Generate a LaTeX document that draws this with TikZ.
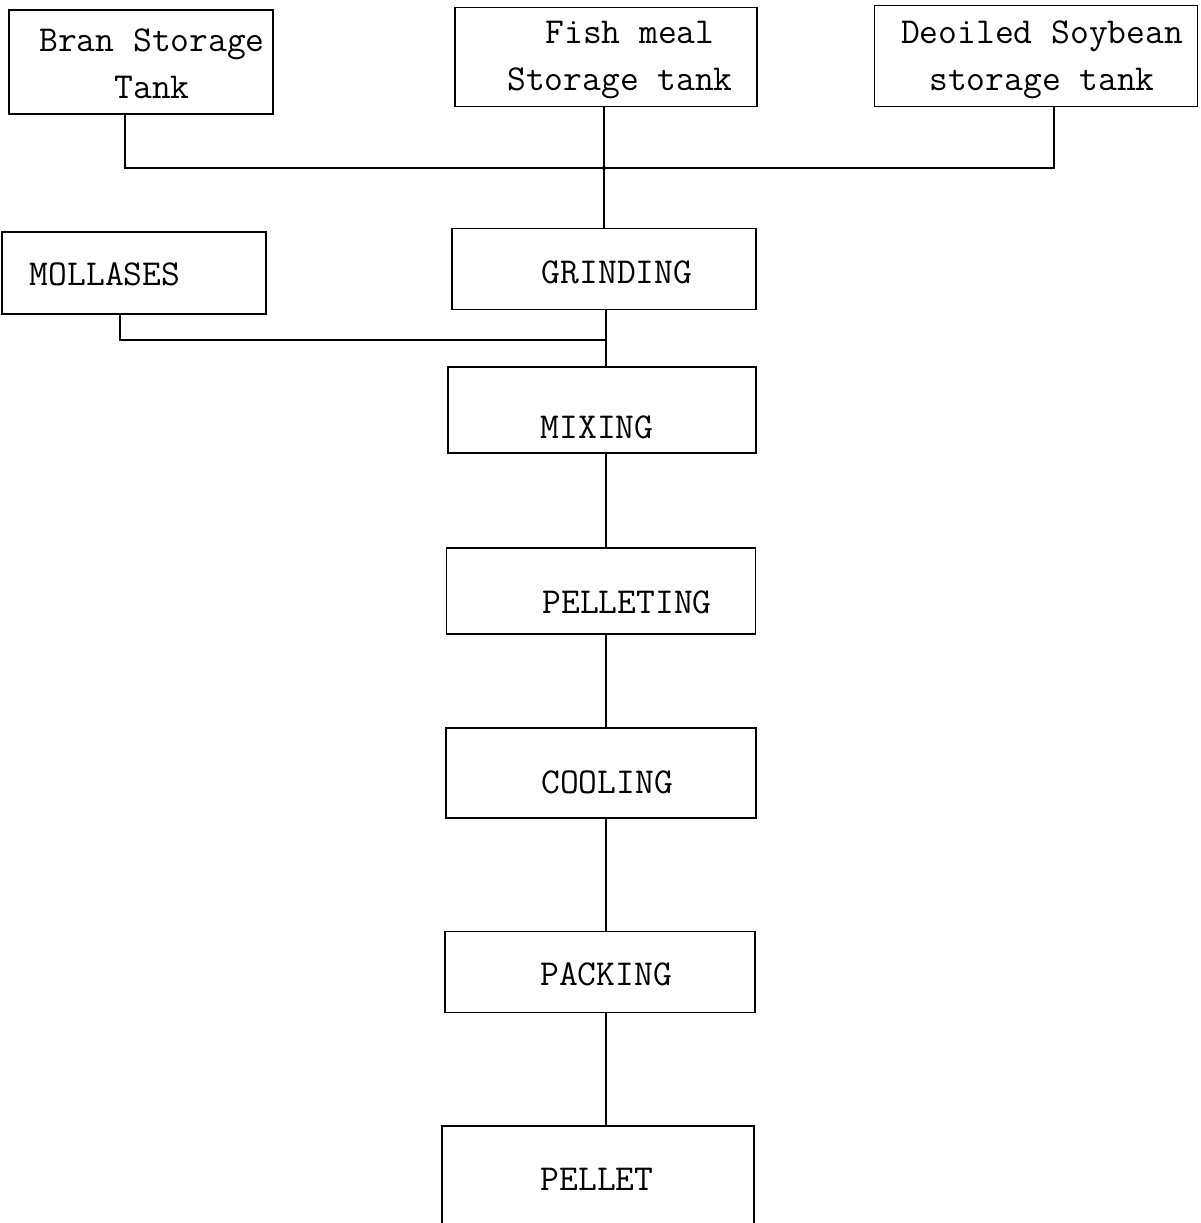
\documentclass[tikz,border=0pt]{standalone}
\usepackage{fontspec}
\begin{document}
\begin{tikzpicture}[x=1pt,y=-1pt,
  box/.style={draw,rectangle,line width=1.6pt,inner sep=0pt},
  lbl/.style={font=\ttfamily\fontsize{36.5}{47}\selectfont,align=center,inner sep=0pt},
  conn/.style={line width=1.5pt}]
\useasboundingbox[fill=white] (0,0) rectangle (1200,1223);
% boxes
\node[box,minimum width=264,minimum height=104] (bran) at (141,62) {};
\node[box,minimum width=302,minimum height=99] (fish) at (606,57) {};
\node[box,minimum width=323,minimum height=101] (soy) at (1036,56) {};
\node[box,minimum width=264,minimum height=82] (mol) at (134,273) {};
\node[box,minimum width=304,minimum height=81] (grind) at (604,269) {};
\node[box,minimum width=308,minimum height=86] (mix) at (602,410) {};
\node[box,minimum width=309,minimum height=86] (pel) at (601,591) {};
\node[box,minimum width=310,minimum height=90] (cool) at (601,773) {};
\node[box,minimum width=310,minimum height=81] (pack) at (600,972) {};
\node[box,minimum width=312,minimum height=120] (pellet) at (598,1186) {};
% labels
\node[lbl] (tbran) at (152,64) {Bran Storage\\Tank};
\node[lbl] (tfish) at (620,60) {\hspace*{20pt}Fish meal\\Storage tank};
\node[lbl] (tsoy) at (1042,60) {Deoiled Soybean\\storage tank};
\node[lbl] (tmol) at (105,274) {MOLLASES};
\node[lbl] (tgrind) at (617,272) {GRINDING};
\node[lbl] (tmix) at (597,427) {MIXING};
\node[lbl] (tpel) at (627,602) {PELLETING};
\node[lbl] (tcool) at (607,782) {COOLING};
\node[lbl] (tpack) at (606,974) {PACKING};
\node[lbl] (tpellet) at (597,1179) {PELLET};
% connector coordinates
\coordinate (b1) at (125,168);
\coordinate (hub) at (604,168);
\coordinate (s1) at (1054,168);
\coordinate (m1) at (606,340);
\coordinate (ml) at (120,340);
% connectors
\draw[conn] (b1 |- bran.south) -- (b1) -- (s1) -- (s1 |- soy.south);
\draw[conn] (hub |- fish.south) -- (hub) -- (hub |- grind.north);
\fill (hub) circle (2pt);
\draw[conn] (m1 |- grind.south) -- (m1 |- mix.north);
\draw[conn] (ml |- mol.south) -- (ml) -- (m1);
\draw[conn] (m1 |- mix.south) -- (m1 |- pel.north);
\draw[conn] (m1 |- pel.south) -- (m1 |- cool.north);
\draw[conn] (m1 |- cool.south) -- (m1 |- pack.north);
\draw[conn] (m1 |- pack.south) -- (m1 |- pellet.north);
\end{tikzpicture}
\end{document}
